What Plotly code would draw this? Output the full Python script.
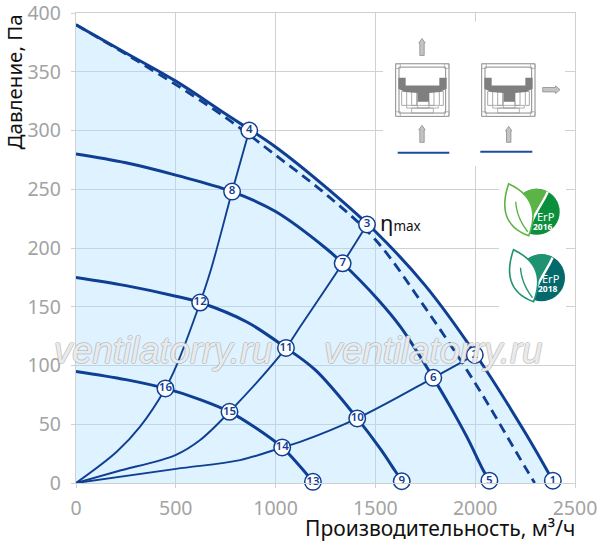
import math
import plotly.graph_objects as go

# ---------- data ----------
outer_x = [0, 250, 500, 750, 1000, 1250, 1500, 1750, 2000, 2250, 2389]
outer_y = [390, 366, 342, 314, 286, 252, 214, 168, 110, 43, 2]
dash_x = [0, 250, 500, 750, 1000, 1250, 1500, 1750, 2000, 2250, 2298]
dash_y = [390, 365, 339, 311, 279, 246, 207, 149, 85, 13.5, 0]
c2_x = [0, 250, 500, 782, 1000, 1250, 1336, 1508, 1625, 1790, 1875, 1959, 2043, 2071]
c2_y = [280, 272.5, 262, 248, 231, 200, 187, 157, 133, 89.5, 65, 39, 10, 2]
c3_x = [0, 250, 500, 622, 856, 1052, 1200, 1409, 1525, 1600, 1632]
c3_y = [175, 168, 159, 153.6, 137, 115, 96, 55, 29, 10, 2]
c4_x = [0, 250, 448, 622, 769, 900, 1033, 1123, 1187]
c4_y = [95, 88, 80.5, 71, 60.6, 47, 30.3, 14, 1]
a_x = [0, 204, 321, 448, 501, 622, 675, 782, 868]
a_y = [0, 26.6, 48, 80.5, 99, 153.6, 181, 248, 300]
b_x = [0, 204, 501, 622, 769, 1052, 1123, 1336, 1458]
b_y = [0, 9.8, 24, 36.6, 60.6, 115, 133, 187, 220]
c_x = [0, 501, 822, 1033, 1123, 1409, 1790, 1998]
c_y = [0, 12, 19.5, 30.3, 35, 55, 89.5, 109]
point_labels = ["1", "2", "3", "4", "5", "6", "7", "8", "9", "10", "11", "12", "13", "14", "15", "16"]
point_x = [2389, 1998, 1458, 868, 2071, 1790, 1336, 782, 1632, 1409, 1052, 622, 1187, 1033, 769, 448]
point_y = [2, 109, 220, 300, 2, 89.5, 187, 248, 1.5, 55, 115, 153.6, 1, 30.3, 60.6, 80.5]
x_ticks = [0, 500, 1000, 1500, 2000, 2500]
y_ticks = [0, 50, 100, 150, 200, 250, 300, 350, 400]
x_title = "Производительность, м³/ч"
y_title = "Давление, Па"
watermark = "ventilatorry.ru"

# ---------- style / frame ----------
BLUE = "#0f3f92"
L, R, T, B = 76.0, 575.0, 12.5, 483.0
FONT = "Noto Sans"


def px(x):
    return (x - L) / (R - L)


def py(y):
    return (B - y) / (B - T)


def poly(points, close=True):
    s = "M" + " L".join(f"{px(x):.5f},{py(y):.5f}" for x, y in points)
    return s + (" Z" if close else "")


shapes = []
annotations = []


def add_path(points, fill=None, line=None, width=1.0, close=True):
    shapes.append(dict(type="path", xref="paper", yref="paper", layer="above",
                       path=poly(points, close),
                       fillcolor=fill if fill else "rgba(0,0,0,0)",
                       line=dict(color=line if line else "rgba(0,0,0,0)", width=width if line else 0)))


def add_rect(x0, y0, x1, y1, fill=None, line=None, width=1.0):
    add_path([(x0, y0), (x1, y0), (x1, y1), (x0, y1)], fill, line, width)


def add_text(x, y, text, size, color, **kw):
    annotations.append(dict(x=px(x), y=py(y), xref="paper", yref="paper", text=text, showarrow=False,
                            xanchor=kw.pop("xanchor", "center"), yanchor="middle",
                            font=dict(family=kw.pop("family", FONT), size=size, color=color, **kw.pop("fontkw", {})),
                            **kw))


# white patches that interrupt the grid
add_rect(383, 21, 565, 166, fill="white")
add_rect(499, 166, 566, 320, fill="white")


def arrow(x, y0, y1, horizontal=False):
    w, h = 2.2, 4.5
    c, e = "#c4c4c4", "#8c8c8c"
    if horizontal:
        pts = [(y0, x - w), (y1 - h, x - w), (y1 - h, x - w - 1.6), (y1, x), (y1 - h, x + w + 1.6), (y1 - h, x + w), (y0, x + w)]
    else:
        pts = [(x - w, y1), (x - w, y0 + h), (x - w - 1.0, y0 + h), (x, y0), (x + w + 1.0, y0 + h), (x + w, y0 + h), (x + w, y1)]
    add_path(pts, fill=c, line=e, width=0.8)


def icon(dx):
    def z(a, b):
        return (380 + a / 3 + dx, 25 + b / 3)

    g = "#8a8a8a"
    add_rect(*z(47, 115), *z(207, 273), line=g, width=1)
    add_rect(*z(57, 125), *z(197, 263), line=g, width=1)
    for a, b in [(47, 115), (193, 115), (47, 259), (193, 259)]:
        add_rect(*z(a, b), *z(a + 14, b + 14), line="#a8a8a8", width=0.8)
    for a0, a1 in [(65, 80), (95, 110), (147, 162), (178, 190)]:
        add_rect(*z(a0, 198), *z(a1, 240), line="#a0a0a0", width=0.9)
    add_rect(*z(80, 240), *z(175, 248), line="#a0a0a0", width=0.8)
    add_rect(*z(95, 248), *z(160, 263), line="#a0a0a0", width=0.8)
    add_rect(*z(112, 228), *z(147, 248), line="#a0a0a0", width=0.8)
    add_path([z(*p) for p in [(55, 157), (77, 157), (77, 180), (178, 180), (178, 157), (200, 157), (200, 190),
                              (180, 200), (147, 203), (147, 228), (112, 228), (112, 203), (75, 200), (55, 190)]],
             fill="#7f7f7f")


icon(0)
icon(86)
arrow(422, 38, 55)
arrow(422, 125, 142)
arrow(508.7, 126, 142)
arrow(89.3, 542.7, 560, horizontal=True)
add_path([(397.7, 152.3), (449.3, 152.3)], line="#1d4c9e", width=2, close=False)
add_path([(480.3, 151.3), (532.3, 151.3)], line="#1d4c9e", width=2, close=False)


def arc(cx, cy, r, a0, a1, n=40):
    return [(cx + r * math.cos(math.radians(a0 + (a1 - a0) * i / n)),
             cy + r * math.sin(math.radians(a0 + (a1 - a0) * i / n))) for i in range(n + 1)]


def bez(p0, p1, p2, p3, n=16):
    out = []
    for i in range(n + 1):
        t = i / n
        u = 1 - t
        out.append((u**3 * p0[0] + 3 * u * u * t * p1[0] + 3 * u * t * t * p2[0] + t**3 * p3[0],
                    u**3 * p0[1] + 3 * u * u * t * p1[1] + 3 * u * t * t * p2[1] + t**3 * p3[1]))
    return out


def logo(cx, cy, r, light, dark, year, erp_dy):
    def rel(pts):
        return [(cx + a, cy + b) for a, b in pts]

    add_path(arc(cx, cy, r, 0, 360), fill=dark)
    sw = bez((11, -20), (5, -6), (-6, 6), (-8, 22))
    a0 = math.degrees(math.atan2(22, -8))
    a1 = math.degrees(math.atan2(-20, 11)) + 360
    add_path(arc(cx, cy, r, a0, a1) + rel(list(reversed(sw))), fill=light)
    add_path(rel(sw), line="white", width=2.4, close=False)
    leaf = bez((-28, -28), (-36, -5), (-33, 15), (-8, 24)) + bez((-8, 24), (-2, 8), (2, -14), (-28, -28))[1:]
    add_path(rel(leaf), fill="white", line=light, width=1.6)
    add_path(rel(bez((-21, -10), (-20, 3), (-15, 12), (-9, 20))), line=light, width=1.4, close=False)
    add_text(cx + 9, cy + erp_dy, "ErP", 11, "white")
    add_text(cx + 6, cy + erp_dy + 10, year, 8.5, "white", fontkw=dict(weight="bold"))


logo(536.7, 211.5, 23, "#5cb446", "#0c8f3d", "2016", 5)
logo(541.5, 277.5, 23.5, "#1f9272", "#04696b", "2018", 1)

# axis titles, eta and watermark
add_text(440, 528.5, x_title, 21, "#111111")
annotations.append(dict(x=px(13.5), y=py(81.5), xref="paper", yref="paper", text=y_title,
                        showarrow=False, textangle=-90, xanchor="center", yanchor="middle",
                        font=dict(family=FONT, size=20.5, color="#111111")))
add_text(378, 222, "η<span style='font-size:13.5px'>max</span>", 22, "#111111", xanchor="left")
shadow = ("-1px 0 rgba(150,150,150,0.55), 1px 0 rgba(150,150,150,0.55), "
          "0 -1px rgba(150,150,150,0.55), 0 1px rgba(150,150,150,0.55)")
for wx in (163, 433):
    add_text(wx, 350, watermark, 36.5, "rgba(255,255,255,0.8)", family="Liberation Sans",
             fontkw=dict(style="italic", shadow=shadow))

# ---------- figure ----------
fig = go.Figure()
fig.add_trace(go.Scatter(x=outer_x, y=outer_y, mode="lines", fill="tozeroy",
                         fillcolor="rgba(170,220,255,0.38)",
                         line=dict(color=BLUE, width=3, shape="spline", smoothing=1), cliponaxis=False))
fig.add_trace(go.Scatter(x=dash_x, y=dash_y, mode="lines",
                         line=dict(color=BLUE, width=2.8, dash="10px,6px", shape="spline", smoothing=1)))
for xs, ys in ((c2_x, c2_y), (c3_x, c3_y), (c4_x, c4_y)):
    fig.add_trace(go.Scatter(x=xs, y=ys, mode="lines",
                             line=dict(color=BLUE, width=3, shape="spline", smoothing=1)))
for xs, ys in ((a_x, a_y), (b_x, b_y), (c_x, c_y)):
    fig.add_trace(go.Scatter(x=xs, y=ys, mode="lines",
                             line=dict(color=BLUE, width=1.9, shape="spline", smoothing=1)))
fig.add_trace(go.Scatter(x=point_x, y=point_y, mode="markers+text", text=point_labels,
                         textposition="middle center", cliponaxis=False,
                         textfont=dict(family=FONT, size=11.5, color=BLUE, weight=600),
                         marker=dict(size=16.5, color="white", line=dict(color=BLUE, width=1.5))))

axis_common = dict(showgrid=True, gridcolor="#d0d0d0", gridwidth=1.3, zeroline=False,
                   ticks="outside", ticklen=4, tickcolor="#d0d0d0", tickwidth=1.3,
                   showline=True, linecolor="#d0d0d0", linewidth=1.3, mirror=True,
                   automargin=False, ticklabeloverflow="allow",
                   tickfont=dict(family=FONT, size=19.5, color="#a3a3a3"))
fig.update_layout(
    width=597, height=542, autosize=False,
    margin=dict(l=L, r=597 - R, t=T, b=542 - B, pad=0, autoexpand=False),
    paper_bgcolor="white", plot_bgcolor="white", showlegend=False,
    xaxis=dict(range=[0, 2500], tickvals=x_ticks, ticktext=[str(v) for v in x_ticks],
               ticklabelstandoff=3, **axis_common),
    yaxis=dict(range=[0, 400], tickvals=y_ticks, ticktext=[str(v) for v in y_ticks],
               ticklabelstandoff=6, **axis_common),
    shapes=shapes, annotations=annotations,
)
fig.write_html("out.html", config=dict(displayModeBar=False),
               post_script="document.body.style.margin='0';")
